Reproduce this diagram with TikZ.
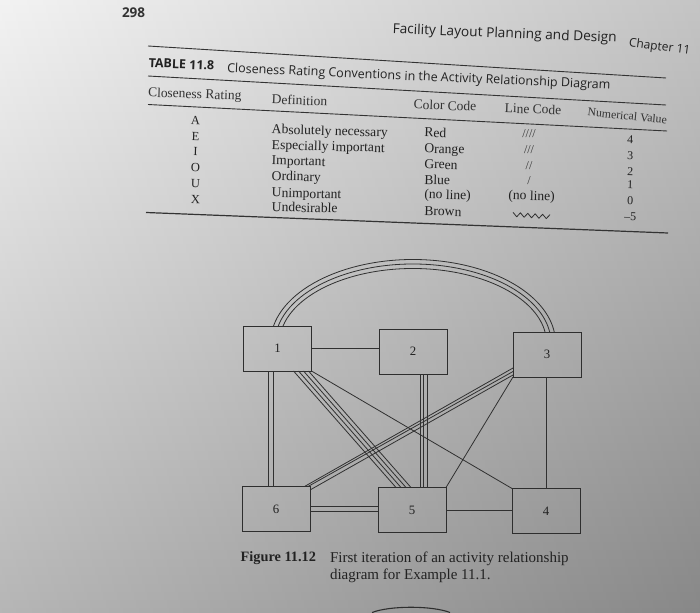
\documentclass[tikz,border=0pt]{standalone}
\usepackage{fontspec}
\setmainfont{Liberation Serif}
\newfontfamily\hdfont{Open Sans}
\usetikzlibrary{calc}
\definecolor{ink}{HTML}{222222}
\definecolor{inkb}{HTML}{333333}
\definecolor{boxc}{HTML}{2E2E2E}
\definecolor{linec}{HTML}{303030}
\definecolor{rulec}{HTML}{333333}
\definecolor{bgA}{HTML}{F0F0F0}
\definecolor{bgB}{HTML}{C2C2C2}
\definecolor{bgC}{HTML}{A6A6A6}
\begin{document}
\begin{tikzpicture}[x=1pt,y=-1pt,
  box/.style={draw=boxc, line width=0.9pt, minimum width=68pt, minimum height=45pt,
    inner sep=0pt, outer sep=0pt, text=ink, font=\fontsize{12.8}{14}\selectfont},
  conn/.style={draw=linec, line width=0.8pt},
  rule/.style={draw=rulec, line width=0.9pt},
  hd/.style={anchor=base west, inner sep=0pt, outer sep=0pt, text=ink},
  colhead/.style={anchor=base west, inner sep=0pt, outer sep=0pt, text=inkb,
    font=\fontsize{13.5}{15}\selectfont, rotate=-2},
  cell/.style={anchor=base west, inner sep=0pt, outer sep=0pt, text=ink,
    font=\fontsize{13.6}{15}\selectfont, rotate=-1.6},
  letter/.style={anchor=base, inner sep=0pt, outer sep=0pt, text=ink,
    font=\fontsize{12.5}{14}\selectfont, rotate=-1.6},
  numc/.style={anchor=base, inner sep=0pt, outer sep=0pt, text=ink,
    font=\fontsize{12}{14}\selectfont, rotate=-2},
  slash/.style={anchor=base, inner sep=0pt, outer sep=0pt, text=inkb,
    font=\fontsize{12}{14}\selectfont},
  capt/.style={anchor=base west, inner sep=0pt, outer sep=0pt, text=ink,
    font=\fontsize{15}{17}\selectfont}
]
% background (photographed page)
\shade[top color=bgA, middle color=bgB, bottom color=bgC] (0,0) rectangle (700,612);
\shade[left color=white, right color=black, opacity=0.18] (0,0) rectangle (700,612);
\useasboundingbox (0,0) rectangle (700,612);

% running head
\node[hd, text=inkb, font=\hdfont\bfseries\fontsize{13.5}{15}\selectfont] (pg) at (122,17.7) {298};
\node[hd, font=\hdfont\fontsize{13.7}{16}\selectfont, rotate=-2.3] (runhead) at (392.5,33.3) {Facility Layout Planning and Design};
\node[hd, font=\hdfont\fontsize{12}{14}\selectfont, rotate=-7.5] (chap) at (628.5,46.5) {Chapter 11};

% table rules
\coordinate (r1a) at (148,46);    \coordinate (r1b) at (666,78);
\coordinate (r2a) at (148,76);    \coordinate (r2b) at (666,105);
\coordinate (r3a) at (148,104.5); \coordinate (r3b) at (667,131);
\coordinate (r4a) at (146,212.5); \coordinate (r4b) at (668,233);
\draw[rule] (r1a) -- (r1b);
\draw[rule] (r2a) -- (r2b);
\draw[rule] (r3a) -- (r3b);
\draw[rule, line width=1.2pt] (r4a) -- (r4b);

% table title
\node[hd, font=\hdfont\bfseries\fontsize{12.5}{14}\selectfont, rotate=-2.5] (tabno) at (148.5,67.3) {TABLE 11.8};
\node[hd, font=\hdfont\fontsize{12.5}{14}\selectfont, rotate=-2.5] (tabtitle) at (227,72.3) {Closeness Rating Conventions in the Activity Relationship Diagram};

% column heads
\node[colhead] (hcr)  at (148,96.7)  {Closeness Rating};
\node[colhead] (hdef) at (271.7,104) {Definition};
\node[colhead] (hcol) at (413.6,109) {Color Code};
\node[colhead] (hlin) at (504.5,112.7) {Line Code};
\node[colhead, font=\fontsize{11.8}{14}\selectfont, rotate=-3.5] (hnum) at (587.3,116) {Numerical Value};

% table body
\foreach \t/\y [count=\i] in {A/124.7, E/140.3, I/155.3, O/171.7, U/188, X/203.7}
  \node[letter] (let\i) at (195.5,\y) {\t};
\foreach \t/\y [count=\i] in {Absolutely necessary/133.7, Especially important/149.3,
    Important/164.7, Ordinary/180.3, Unimportant/197, Undesirable/211.3}
  \node[cell] (def\i) at (271.7,\y) {\t};
\foreach \t/\y [count=\i] in {Red/137, Orange/153, Green/168.5, Blue/184.3, {(no line)}/198.5, Brown/215.3}
  \node[cell] (col\i) at (424.3,\y) {\t};
\foreach \t/\y [count=\i] in {{////}/138, {///}/153.7, {//}/169.3, {/}/184.7}
  \node[slash] (lin\i) at (529,\y) {\t};
\node[cell] (lin5) at (508.3,199.5) {(no line)};
\draw[linec, line width=0.8pt, line join=round] (513,212.3) -- (516.7,216.8) -- (520.4,212.8)
  -- (524.1,217.3) -- (527.8,213.3) -- (531.5,217.8) -- (535.2,213.8) -- (538.9,218.3)
  -- (542.6,214.3) -- (546.3,218.6) -- (550,214.6);
\foreach \t/\y [count=\i] in {4/143.7, 3/159.3, 2/175.3, 1/188.7, 0/204.7, –5/220.3}
  \node[numc] (num\i) at (630,\y) {\t};

% activity relationship diagram
\node[box] (b1) at (277.5,348.5) {1};
\node[box] (b2) at (413,351.5) {2};
\node[box] (b3) at (547,354.5) {3};
\node[box] (b6) at (276,509) {6};
\node[box] (b5) at (412,510) {5};
\node[box] (b4) at (546,511) {4};

% 1-3 : E (three arcs)
\coordinate (arcc) at (413,343);
\foreach \a/\b/\s/\e in {133.5/74.5/166.81/8.49, 138/79/167.57/8.0, 142.5/83.5/168.25/7.57}
  \draw[conn] (arcc) ++(\s:\a pt and \b pt) arc[start angle=\s, end angle=\e, x radius=\a pt, y radius=\b pt];

% 1-2 : O
\draw[conn] (b1.east) -- (b1.east -| b2.west);
% 1-6 : I
\foreach \s in {-9.5,-4.5} {
  \coordinate (p) at ([xshift=\s pt]b1.south);
  \draw[conn] (p) -- (p |- b6.north);
}
% 1-5 : A
\foreach \a/\b in {16/-16, 21/-11, 26/-6, 31/-1}
  \draw[conn] ([xshift=\a pt]b1.south) -- ([xshift=\b pt]b5.north);
% 1-4 : O
\draw[conn] (b1.south east) -- (b4.north west);
% 2-5 : E
\foreach \s in {7,10.5,14} {
  \coordinate (p) at ([xshift=\s pt]b2.south);
  \draw[conn] (p) -- (p |- b5.north);
}
% 3-6 : E
\draw[conn] ([yshift=-13.5pt]b3.west) -- ([xshift=-5.5pt]b6.north east);
\draw[conn] ([yshift=-17pt]b3.west) -- ([xshift=-2pt]b6.north east);
\draw[conn] ([yshift=-20.5pt]b3.west) -- ([yshift=-3.5pt]b6.north east);
% 3-5 : O
\draw[conn] (b3.south west) -- (b5.north east);
% 3-4 : O
\coordinate (q) at ([xshift=-1pt]b3.south);
\draw[conn] (q) -- (q |- b4.north);
% 6-5 : I
\foreach \s in {2.6,-2.6} {
  \coordinate (p) at ([yshift=\s pt]b6.east);
  \draw[conn] (p) -- (p -| b5.west);
}
% 5-4 : O
\draw[conn] (b5.east) -- (b5.east -| b4.west);

% caption
\node[capt, font=\bfseries\fontsize{14.3}{17}\selectfont] (fig) at (240.7,561.7) {Figure 11.12};
\node[capt] (cap1) at (330,562.3) {First iteration of an activity relationship};
\node[capt] (cap2) at (330,579.3) {diagram for Example 11.1.};

% edge of an object at the bottom of the photo
\draw[boxc, line width=1.1pt] (372,612.5) .. controls (390,605.5) and (432,605.5) .. (450,612.5);
\end{tikzpicture}
\end{document}
